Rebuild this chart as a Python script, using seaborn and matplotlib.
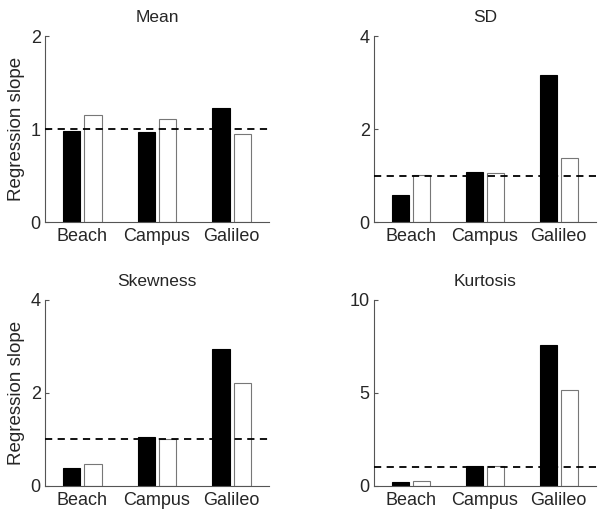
import pandas as pd
import matplotlib
matplotlib.use("Agg")
import matplotlib.pyplot as plt
import seaborn as sns

places = ["Beach", "Campus", "Galileo"]
kinds = ["filled", "open"]

mean_filled = [0.98, 0.97, 1.23]
mean_open = [1.15, 1.11, 0.95]
sd_filled = [0.58, 1.08, 3.16]
sd_open = [1.01, 1.05, 1.38]
skew_filled = [0.39, 1.05, 2.94]
skew_open = [0.47, 1.01, 2.21]
kurt_filled = [0.20, 1.09, 7.58]
kurt_open = [0.27, 1.06, 5.16]

titles = ["Mean", "SD", "Skewness", "Kurtosis"]
ylims = [2, 4, 4, 10]
yticks = [[0, 1, 2], [0, 2, 4], [0, 2, 4], [0, 5, 10]]
series = [(mean_filled, mean_open), (sd_filled, sd_open),
          (skew_filled, skew_open), (kurt_filled, kurt_open)]

sns.set_style("white")
plt.rcParams["font.family"] = ["Liberation Sans", "DejaVu Sans"]

fig = plt.figure(figsize=(6.06, 5.2), dpi=100)
boxes = [[0.0743, 0.573, 0.3696, 0.3577], [0.617, 0.573, 0.366, 0.3577],
         [0.0743, 0.0654, 0.3696, 0.3577], [0.617, 0.0654, 0.366, 0.3577]]

for i in range(4):
    ax = fig.add_axes(boxes[i])
    filled, opened = series[i]
    df = pd.DataFrame({
        "place": places * 2,
        "kind": [kinds[0]] * 3 + [kinds[1]] * 3,
        "value": filled + opened,
    })
    sns.barplot(data=df, x="place", y="value", hue="kind", order=places,
                hue_order=kinds, palette=["black", "white"], width=0.57,
                gap=0.18, legend=False, ax=ax, saturation=1)
    for p in ax.patches:
        fc = p.get_facecolor()
        if fc[0] > 0.5:
            p.set_edgecolor("#777777")
        else:
            p.set_edgecolor("black")
        p.set_linewidth(0.8)
    ax.axhline(1, color="black", lw=1.3, ls=(0, (4, 3)), zorder=5)
    ax.set_xlim(-0.5, 2.5)
    ax.set_ylim(0, ylims[i])
    ax.set_yticks(yticks[i])
    ax.set_xlabel("")
    ax.set_ylabel("Regression slope" if i % 2 == 0 else "", fontsize=13.5,
                  labelpad=4)
    ax.set_title(titles[i], fontsize=12.5, pad=10)
    for s in ["top", "right"]:
        ax.spines[s].set_visible(False)
    for s in ["left", "bottom"]:
        ax.spines[s].set_color("#555555")
        ax.spines[s].set_linewidth(0.8)
    ax.tick_params(axis="y", direction="in", length=3, width=0.8,
                   color="#555555", labelsize=13, pad=3, left=True)
    ax.tick_params(axis="x", length=0, labelsize=13, pad=4)

fig.savefig("out.png", dpi=100)
